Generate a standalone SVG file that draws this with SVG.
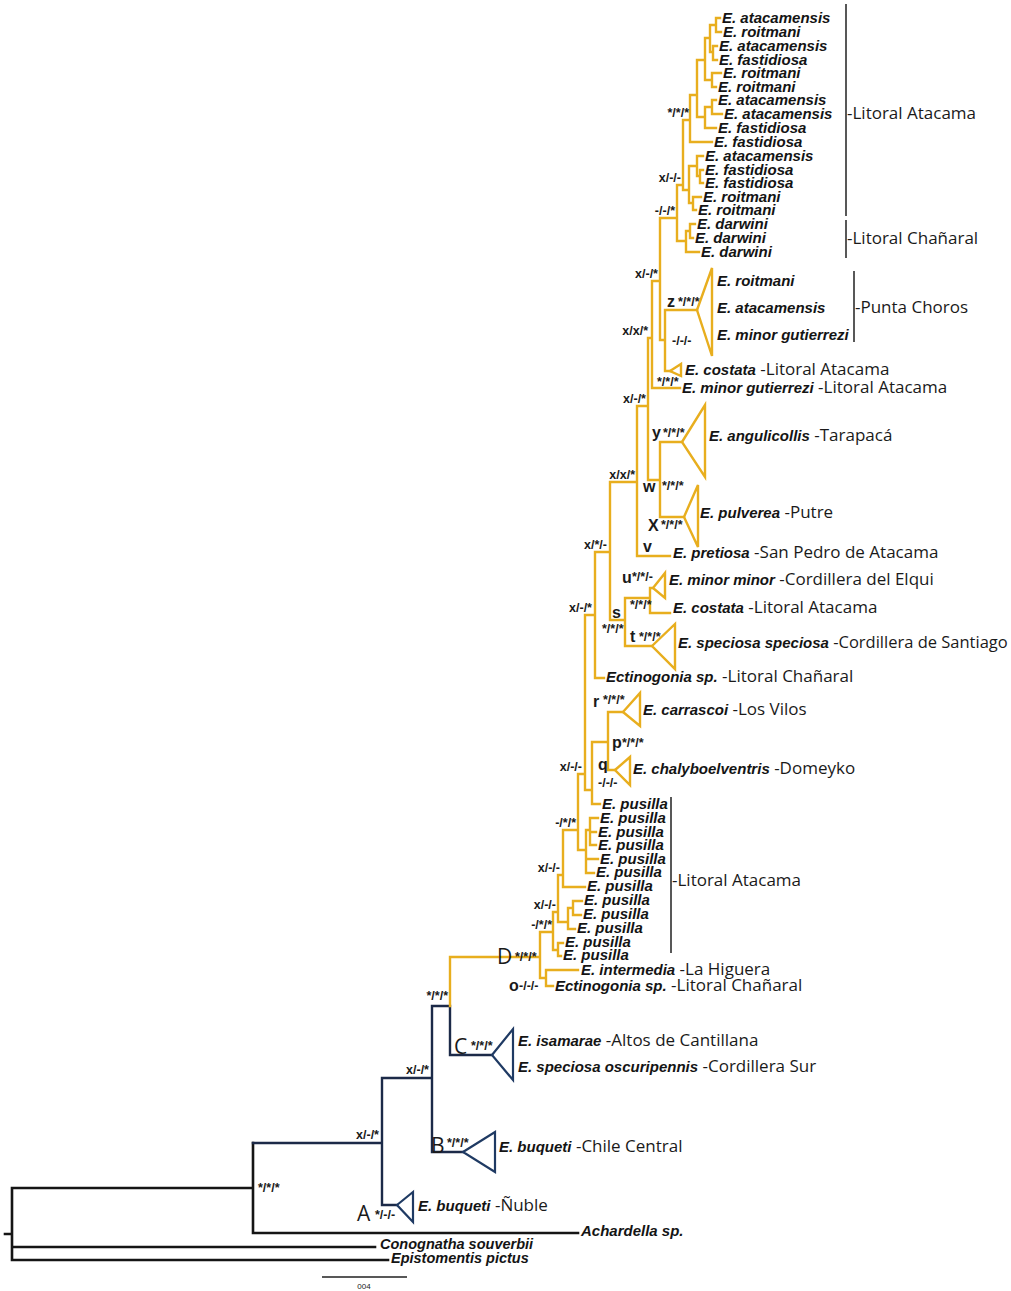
<svg xmlns="http://www.w3.org/2000/svg" width="1011" height="1291" viewBox="0 0 1011 1291">
<style>
.y{stroke:#e8ae1e;stroke-width:2.4;fill:none;stroke-linecap:square}
.n{stroke:#1c2a48;stroke-width:2.4;fill:none;stroke-linecap:square}
.k{stroke:#151515;stroke-width:2.6;fill:none;stroke-linecap:square}
.ty{fill:none;stroke:#e8ae1e;stroke-width:2.4;stroke-linejoin:miter}
.tn{fill:none;stroke:#1f3a63;stroke-width:2.2;stroke-linejoin:miter}
.sp{font-family:"Liberation Sans",Arial,sans-serif;font-weight:bold;font-style:italic;font-size:15px;fill:#141414}
.loc{font-family:"Open Sans","Liberation Sans",sans-serif;font-weight:normal;font-style:normal;font-size:17px;fill:#1a1a1a}
.sup{font-family:"Liberation Sans",Arial,sans-serif;font-weight:bold;font-size:12.5px;fill:#1a1a1a}
.lt{font-family:"Liberation Sans",Arial,sans-serif;font-weight:bold;font-size:16px;fill:#1a1a1a}
.cap{font-family:"Open Sans","Liberation Sans",sans-serif;font-size:21px;fill:#1a1a1a}
.bar{stroke:#222;stroke-width:1.5;fill:none}
.e{text-anchor:end}
</style>
<rect width="1011" height="1291" fill="#fff"/>

<g id="connectors">
<path class="k" d="M5,1234 H12 M12,1188 V1260 M12,1188 H253 M253,1143 V1233 H578 M12,1247 H375 M12,1260 H388"/>
<path class="n" d="M253,1143 H382 M382,1078 V1205 H397 M382,1078 H432 M432,1006 V1152 H463 M432,1006 H450 M450,1006 V1055 H492"/>
<path class="y" d="M450,1006 V957 H540 M540,932 V978 M540,978 H546 M546,970 V986 M546,970 H578 M546,986 H553
M540,932 H553 M553,912 V950 M553,950 H558 M558,943 V956 M558,943 H563 M558,956 H561
M553,912 H558 M558,875 V922 M558,922 H568 M568,908 V929 M568,929 H575 M568,908 H573 M573,901 V915 M573,901 H582 M573,915 H581
M558,875 H563 M563,830 V887 M563,887 H585
M563,830 H578 M578,774 V850 M578,850 H586 M586,830 V873 M586,830 H590 M590,818 V845 M590,818 H598 M590,832 H596 M590,845 H596 M586,859 H598 M586,873 H594
M578,774 H585 M585,615 V790 M585,790 H592 M592,742 V804 M592,804 H600 M592,742 H608 M608,712 V770 M608,712 H623 M608,770 H615
M585,615 H595 M595,552 V678 M595,678 H604
M595,552 H610 M610,482 V620 M610,620 H625 M625,598 V646 M625,598 H650 M650,588 V613 M650,588 H653 M650,613 H670 M625,646 H652
M610,482 H637 M637,406 V556 M637,556 H670
M637,406 H648 M648,338 V480 M648,480 H660 M660,442 V517 M660,442 H682 M660,517 H684
M648,338 H652 M652,281 V388 M652,388 H680
M652,281 H660 M660,218 V340 M660,340 H665 M665,310 V371 M665,310 H697 M665,371 H670
M660,218 H677 M677,185 V241 M677,241 H686 M686,231 V252 M686,252 H699 M686,231 H690 M690,224 V238 M690,224 H695 M690,238 H693
M677,185 H683 M683,120 V190 M683,190 H689 M689,166 V203 M689,166 H697 M697,156 V176 M697,156 H703 M697,176 H700 M700,170 V183 M700,170 H703 M700,183 H703
M689,203 H693 M693,197 V210 M693,197 H701 M693,210 H696
M683,120 H690 M690,95 V142 M690,142 H712 M690,95 H697 M697,60 V117
M697,60 H705 M705,38 V80 M705,38 H710 M710,25 V52 M710,25 H716 M716,18 V32 M716,18 H720 M716,32 H721
M710,52 H713 M713,46 V60 M713,46 H717 M713,60 H717
M705,80 H712 M712,73 V87 M712,73 H721 M712,87 H716
M697,117 H705 M705,107 V128 M705,128 H716 M705,107 H712 M712,100 V114 M712,100 H716 M712,114 H722"/>
<path class="bar" d="M846,4 V216 M846,220 V258 M854,271 V342 M671,797 V953 M322,1277 H407"/>
</g>

<g id="support-labels">
<text class="sup e" x="689" y="117">*/*/*</text>
<text class="sup e" x="681" y="182">x/-/-</text>
<text class="sup e" x="675" y="215">-/-/*</text>
<text class="sup e" x="658" y="278">x/-/*</text>
<text class="sup e" x="648" y="335">x/x/*</text>
<text class="sup" x="672" y="345">-/-/-</text>
<text class="sup" x="657" y="386">*/*/*</text>
<text class="sup e" x="646" y="403">x/-/*</text>
<text class="sup e" x="635" y="479">x/x/*</text>
<text class="sup e" x="607" y="549">x/*/-</text>
<text class="sup e" x="592" y="612">x/-/*</text>
<text class="sup" x="630" y="609">*/*/*</text>
<text class="sup" x="602" y="633">*/*/*</text>
<text class="sup e" x="582" y="771">x/-/-</text>
<text class="sup e" x="576" y="827">-/*/*</text>
<text class="sup e" x="560" y="872">x/-/-</text>
<text class="sup e" x="556" y="909">x/-/-</text>
<text class="sup e" x="552" y="929">-/*/*</text>
<text class="sup e" x="448" y="1000">*/*/*</text>
<text class="sup e" x="429" y="1074">x/-/*</text>
<text class="sup e" x="379" y="1139">x/-/*</text>
<text class="sup" x="258" y="1192">*/*/*</text>
</g>

<g id="clade-z"><text class="lt" x="667" y="307">z</text><text class="sup" x="678" y="306">*/*/*</text></g>
<g id="clade-y"><text class="lt" x="652" y="438">y</text><text class="sup" x="663" y="437">*/*/*</text></g>
<g id="clade-w"><text class="lt" x="643" y="492">w</text><text class="sup" x="662" y="490">*/*/*</text></g>
<g id="clade-x"><text class="lt" x="648" y="531">X</text><text class="sup" x="661" y="529">*/*/*</text></g>
<g id="clade-v"><text class="lt" x="643" y="552">v</text></g>
<g id="clade-u"><text class="lt" x="622" y="583">u</text><text class="sup" x="632" y="581">*/*/-</text></g>
<g id="clade-s"><text class="lt" x="612" y="618">s</text></g>
<g id="clade-t"><text class="lt" x="630" y="642">t</text><text class="sup" x="639" y="641">*/*/*</text></g>
<g id="clade-r"><text class="lt" x="593" y="707">r</text><text class="sup" x="603" y="704">*/*/*</text></g>
<g id="clade-p"><text class="lt" x="612" y="748">p</text><text class="sup" x="622" y="747">*/*/*</text></g>
<g id="clade-q"><text class="lt" x="598" y="770">q</text><text class="sup" x="598" y="787">-/-/-</text></g>
<g id="clade-o"><text class="lt" x="509" y="991">o</text><text class="sup" x="519" y="990">-/-/-</text></g>
<g id="clade-D"><text class="cap" x="497" y="964">D</text><text class="sup" x="515" y="961">*/*/*</text></g>
<g id="clade-C"><text class="cap" x="454" y="1054">C</text><text class="sup" x="471" y="1050">*/*/*</text></g>
<g id="clade-B"><text class="cap" x="431" y="1153">B</text><text class="sup" x="447" y="1147">*/*/*</text></g>
<g id="clade-A"><text class="cap" x="357" y="1221">A</text><text class="sup" x="375" y="1219">*/-/-</text></g>

<g id="tips-top">
<text class="sp" x="722" y="23">E. atacamensis</text>
<text class="sp" x="723" y="37">E. roitmani</text>
<text class="sp" x="719" y="51">E. atacamensis</text>
<text class="sp" x="719" y="65">E. fastidiosa</text>
<text class="sp" x="723" y="78">E. roitmani</text>
<text class="sp" x="718" y="92">E. roitmani</text>
<text class="sp" x="718" y="105">E. atacamensis</text>
<text class="sp" x="724" y="119">E. atacamensis</text>
<text class="sp" x="718" y="133">E. fastidiosa</text>
<text class="sp" x="714" y="147">E. fastidiosa</text>
<text class="sp" x="705" y="161">E. atacamensis</text>
<text class="sp" x="705" y="175">E. fastidiosa</text>
<text class="sp" x="705" y="188">E. fastidiosa</text>
<text class="sp" x="703" y="202">E. roitmani</text>
<text class="sp" x="698" y="215">E. roitmani</text>
<text class="sp" x="697" y="229">E. darwini</text>
<text class="sp" x="695" y="243">E. darwini</text>
<text class="sp" x="701" y="257">E. darwini</text>
</g>
<g id="group-litoral-atacama-top"><text class="loc" x="847" y="119">-Litoral Atacama</text></g>
<g id="group-litoral-chanaral-top"><text class="loc" x="847" y="244">-Litoral Chañaral</text></g>

<g id="punta-choros">
<path class="ty" d="M697,310 L712,268 V356 Z"/>
<text class="sp" x="717" y="286">E. roitmani</text>
<text class="sp" x="717" y="313">E. atacamensis</text>
<text class="sp" x="717" y="340">E. minor gutierrezi</text>
<text class="loc" x="855" y="313">-Punta Choros</text>
</g>
<g id="costata-1"><path class="ty" d="M670,371 L681,364 V376 Z"/><text class="sp" x="685" y="375">E. costata<tspan class="loc"> -Litoral Atacama</tspan></text></g>
<g id="gutierrezi"><text class="sp" x="682" y="393">E. minor gutierrezi<tspan class="loc"> -Litoral Atacama</tspan></text></g>
<g id="angulicollis"><path class="ty" d="M682,442 L705,405 V477 Z"/><text class="sp" x="709" y="441">E. angulicollis<tspan class="loc"> -Tarapacá</tspan></text></g>
<g id="pulverea"><path class="ty" d="M684,517 L698,485 V547 Z"/><text class="sp" x="700" y="518">E. pulverea<tspan class="loc"> -Putre</tspan></text></g>
<g id="pretiosa"><text class="sp" x="673" y="558">E. pretiosa<tspan class="loc"> -San Pedro de Atacama</tspan></text></g>
<g id="minor-minor"><path class="ty" d="M653,588 L665,573 V598 Z"/><text class="sp" x="669" y="585">E. minor minor<tspan class="loc"> -Cordillera del Elqui</tspan></text></g>
<g id="costata-2"><text class="sp" x="673" y="613">E. costata<tspan class="loc"> -Litoral Atacama</tspan></text></g>
<g id="speciosa-speciosa"><path class="ty" d="M652,646 L675,624 V669 Z"/><text class="sp" x="678" y="648">E. speciosa speciosa<tspan class="loc" style="font-size:16.5px"> -Cordillera de Santiago</tspan></text></g>
<g id="ectinogonia-1"><text class="sp" x="606" y="682">Ectinogonia sp.<tspan class="loc"> -Litoral Chañaral</tspan></text></g>
<g id="carrascoi"><path class="ty" d="M623,712 L640,693 V726 Z"/><text class="sp" x="643" y="715">E. carrascoi<tspan class="loc"> -Los Vilos</tspan></text></g>
<g id="chalyboelventris"><path class="ty" d="M615,770 L630,757 V785 Z"/><text class="sp" x="633" y="774">E. chalyboelventris<tspan class="loc"> -Domeyko</tspan></text></g>

<g id="tips-pusilla">
<text class="sp" x="602" y="809">E. pusilla</text>
<text class="sp" x="600" y="823">E. pusilla</text>
<text class="sp" x="598" y="837">E. pusilla</text>
<text class="sp" x="598" y="850">E. pusilla</text>
<text class="sp" x="600" y="864">E. pusilla</text>
<text class="sp" x="596" y="877">E. pusilla</text>
<text class="sp" x="587" y="891">E. pusilla</text>
<text class="sp" x="584" y="905">E. pusilla</text>
<text class="sp" x="583" y="919">E. pusilla</text>
<text class="sp" x="577" y="933">E. pusilla</text>
<text class="sp" x="565" y="947">E. pusilla</text>
<text class="sp" x="563" y="960">E. pusilla</text>
</g>
<g id="group-litoral-atacama-pusilla"><text class="loc" x="672" y="886">-Litoral Atacama</text></g>
<g id="intermedia"><text class="sp" x="581" y="975">E. intermedia<tspan class="loc"> -La Higuera</tspan></text></g>
<g id="ectinogonia-2"><text class="sp" x="555" y="991">Ectinogonia sp.<tspan class="loc"> -Litoral Chañaral</tspan></text></g>

<g id="clade-C-tri"><path class="tn" d="M492,1055 L513,1029 V1080 Z"/>
<text class="sp" x="518" y="1046">E. isamarae<tspan class="loc"> -Altos de Cantillana</tspan></text>
<text class="sp" x="518" y="1072">E. speciosa oscuripennis<tspan class="loc"> -Cordillera Sur</tspan></text></g>
<g id="clade-B-tri"><path class="tn" d="M463,1152 L495,1132 V1172 Z"/><text class="sp" x="499" y="1152">E. buqueti<tspan class="loc"> -Chile Central</tspan></text></g>
<g id="clade-A-tri"><path class="tn" d="M397,1205 L413,1192 V1222 Z"/><text class="sp" x="418" y="1211">E. buqueti<tspan class="loc"> -Ñuble</tspan></text></g>
<g id="achardella"><text class="sp" x="581" y="1236">Achardella sp.</text></g>
<g id="conognatha"><text class="sp" x="380" y="1249" style="font-size:14.5px">Conognatha souverbii</text></g>
<g id="epistomentis"><text class="sp" x="391" y="1263" style="font-size:14.5px">Epistomentis pictus</text></g>
<g id="scale"><text x="364" y="1289" text-anchor="middle" font-family="Liberation Sans, sans-serif" font-size="8" fill="#222">004</text></g>
</svg>
